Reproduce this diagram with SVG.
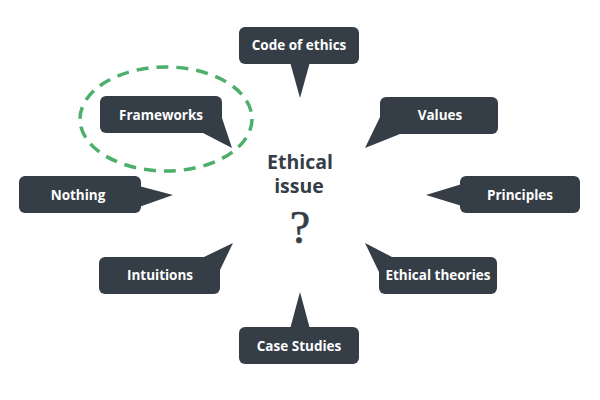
<svg xmlns="http://www.w3.org/2000/svg" width="600" height="400" viewBox="0 0 600 400">
<style>
.b{fill:#353d47}
.t{fill:#ffffff;font-family:"Open Sans","Liberation Sans",sans-serif;font-weight:700;font-size:13.5px;text-anchor:middle}
.c{fill:#353d47;font-family:"Open Sans","Liberation Sans",sans-serif;font-weight:700;font-size:19.5px;text-anchor:middle}
</style>
<rect width="600" height="400" fill="#ffffff"/>
<g id="connectors">
<ellipse cx="166" cy="119" rx="86" ry="52" fill="none" stroke="#4caf6a" stroke-width="3.5" stroke-dasharray="12 8"/>
</g>
<g id="code-of-ethics">
<rect class="b" x="239" y="27" width="120" height="37" rx="6"/>
<polygon class="b" points="290,62 310,62 300,98"/>
<text class="t" x="299" y="50">Code of ethics</text>
</g>
<g id="frameworks">
<rect class="b" x="100" y="96" width="122" height="37" rx="6"/>
<polygon class="b" points="205,118 222,118 232,148 203,133"/>
<text class="t" x="161" y="120">Frameworks</text>
</g>
<g id="values">
<rect class="b" x="380" y="97" width="118" height="37" rx="6"/>
<polygon class="b" points="381,115 398,115 400,134 365,148"/>
<text class="t" x="440" y="120">Values</text>
</g>
<g id="nothing">
<rect class="b" x="19" y="176" width="122" height="37" rx="6"/>
<polygon class="b" points="139,186 139,207 173,195"/>
<text class="t" x="78" y="200">Nothing</text>
</g>
<g id="principles">
<rect class="b" x="460" y="176" width="120" height="37" rx="6"/>
<polygon class="b" points="462,184 462,206 426,195"/>
<text class="t" x="520" y="200">Principles</text>
</g>
<g id="intuitions">
<rect class="b" x="99" y="257" width="121" height="37" rx="6"/>
<polygon class="b" points="204,257 233,243 220,270 210,270"/>
<text class="t" x="160" y="280">Intuitions</text>
</g>
<g id="ethical-theories">
<rect class="b" x="379" y="257" width="118" height="37" rx="6"/>
<polygon class="b" points="365,243 392,257 392,270 379,272"/>
<text class="t" x="438" y="280">Ethical theories</text>
</g>
<g id="case-studies">
<rect class="b" x="239" y="327" width="120" height="37" rx="6"/>
<polygon class="b" points="290,329 310,329 300,292"/>
<text class="t" x="299" y="351">Case Studies</text>
</g>
<g id="ethical-issue">
<text class="c"><tspan x="300" y="169">Ethical</tspan><tspan x="299" y="193">issue</tspan></text>
<text x="300" y="243" font-family="'Liberation Serif',serif" font-size="46" fill="#353d47" stroke="#353d47" stroke-width="0.6" text-anchor="middle">?</text>
</g>
</svg>
